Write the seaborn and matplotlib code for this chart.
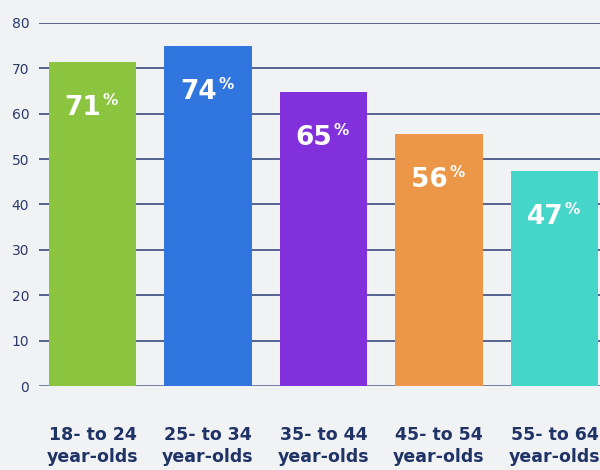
import matplotlib
matplotlib.use("Agg")
import matplotlib.pyplot as plt
import seaborn as sns
import pandas as pd

categories = ["18- to 24\nyear-olds", "25- to 34\nyear-olds", "35- to 44\nyear-olds",
              "45- to 54\nyear-olds", "55- to 64\nyear-olds"]
values = [71.4, 74.9, 64.8, 55.5, 47.4]
labels = ["71", "74", "65", "56", "47"]
colors = ["#8bc43f", "#3176de", "#8230dc", "#ec9647", "#45d6c9"]
yticks = [0, 10, 20, 30, 40, 50, 60, 70, 80]

bg = "#f1f2f4"
navy = "#1f3366"
grid = "#4a5888"

sns.set_theme(style="white")
plt.rcParams['font.family'] = ['DejaVu Sans']

fig = plt.figure(figsize=(6, 4.7), dpi=100, facecolor=bg)
ax = fig.add_axes([39/600, 1 - 386/470, 561/600, 363/470])
ax.set_facecolor(bg)

df = pd.DataFrame({"cat": categories, "val": values})
sns.barplot(data=df, x="cat", y="val", hue="cat", palette=colors, legend=False,
            width=0.757, ax=ax, saturation=1, zorder=3, linewidth=0, edgecolor="none")

ax.set_xlim(-0.463, 4.394)
ax.set_ylim(0, 80)
ax.set_yticks(yticks)
for y in yticks:
    ax.axhline(y, color=grid if y else "#6a77a0", lw=1.3, zorder=1)
for s in ax.spines.values():
    s.set_visible(False)
ax.set_xlabel("")
ax.set_ylabel("")
ax.tick_params(axis="y", length=0, pad=7, labelsize=10, labelcolor="#2b3a6b")
ax.tick_params(axis="x", length=0, pad=29)
for t in ax.get_xticklabels():
    t.set_fontsize(12.5)
    t.set_fontweight("bold")
    t.set_color(navy)
    t.set_linespacing(1.3)

for i, (v, lab) in enumerate(zip(values, labels)):
    ax.annotate(lab, xy=(i, v), xytext=(6.5, -33), textcoords="offset points",
                ha="right", va="center", color="white", fontsize=19,
                fontweight="bold", zorder=4)
    ax.annotate("%", xy=(i, v), xytext=(7.5, -27.5), textcoords="offset points",
                ha="left", va="center", color="white", fontsize=11,
                fontweight="bold", zorder=4)

fig.savefig("out.png", dpi=100, facecolor=bg)
